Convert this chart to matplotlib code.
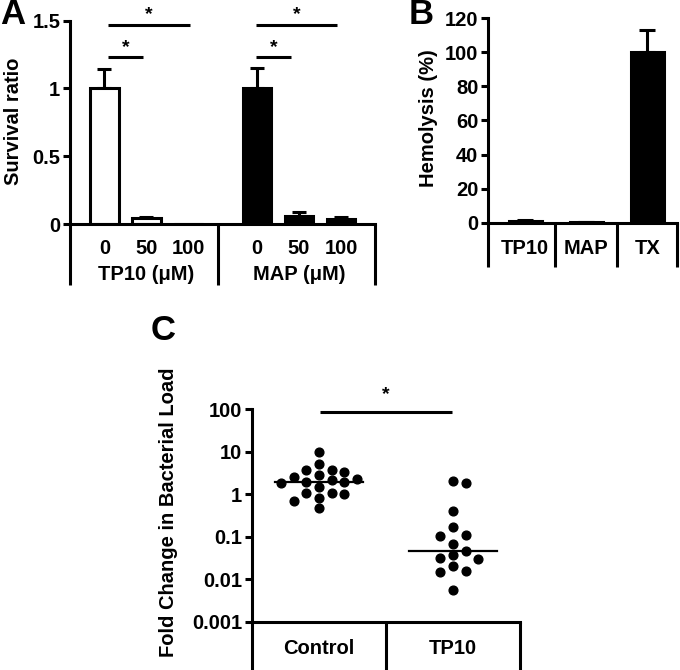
import numpy as np
import matplotlib
matplotlib.use("Agg")
import matplotlib.pyplot as plt
from matplotlib.ticker import NullLocator
from matplotlib.transforms import blended_transform_factory

plt.rcParams['font.family'] = ['Liberation Sans', 'DejaVu Sans']
plt.rcParams['font.weight'] = 'bold'
plt.rcParams['font.size'] = 14

# --- panel A: survival ratio ---
doses = ["0", "50", "100"]
tp10_surv = [1.0, 0.045, 0.0]
tp10_surv_err = [0.14, 0.01, 0.0]
map_surv = [1.0, 0.06, 0.04]
map_surv_err = [0.15, 0.025, 0.015]

# --- panel B: hemolysis ---
hemo_labels = ["TP10", "MAP", "TX"]
hemo = [1.2, 0.3, 100.5]
hemo_err = [0.4, 0.2, 12.5]

# --- panel C: fold change in bacterial load ---
groups_c = ["Control", "TP10"]
control_fold = [9.9, 5.3, 3.7, 3.7, 3.3, 2.94, 2.6, 2.36, 2.15, 1.97,
                1.93, 1.87, 1.5, 1.08, 1.08, 1.0, 0.8, 0.68, 0.48]
tp10_fold = [2.04, 1.87, 0.40, 0.167, 0.112, 0.106, 0.068, 0.047,
             0.038, 0.0325, 0.0305, 0.021, 0.0159, 0.015, 0.0056]

W, H = 680, 670
fig = plt.figure(figsize=(W / 100, H / 100), dpi=100)
LW = 2.2


def px_axes(l, t, r, b):
    return fig.add_axes([l / W, 1 - b / H, (r - l) / W, (b - t) / H])


def style(ax):
    for s in ["top", "right"]:
        ax.spines[s].set_visible(False)
    for s in ["left", "bottom"]:
        ax.spines[s].set_linewidth(LW)
    ax.tick_params(axis="y", width=LW, length=5, labelsize=14.5, pad=2)
    ax.tick_params(axis="x", length=0, labelbottom=False)


def separators(ax, xs, y_px):
    tr = blended_transform_factory(ax.transData, fig.transFigure)
    y0 = ax.get_position().y0
    for x in xs:
        ax.plot([x, x], [y0, 1 - y_px / H], color="k", lw=LW,
                transform=tr, clip_on=False, solid_capstyle="butt")


def cat_labels(ax, xs, labels, y_px):
    tr = blended_transform_factory(ax.transData, fig.transFigure)
    for x, t in zip(xs, labels):
        ax.text(x, 1 - y_px / H, t, ha="center", va="center", transform=tr,
                fontsize=14.5, fontweight="bold")


def up_err(ax, xs, vals, errs, cap):
    xs, vals, errs = map(np.asarray, (xs, vals, errs))
    m = errs > 0
    ax.errorbar(xs[m], vals[m], yerr=[np.zeros(m.sum()), errs[m]], fmt="none",
                ecolor="k", elinewidth=LW, capsize=cap, capthick=LW, zorder=1)


def sig(ax, x1, x2, y, off=4):
    ax.plot([x1, x2], [y, y], color="k", lw=LW, clip_on=False,
            solid_capstyle="butt")
    ax.annotate("*", xy=((x1 + x2) / 2, y), xytext=(0, off),
                textcoords="offset points", ha="center", va="baseline",
                fontsize=14, fontweight="bold", annotation_clip=False)


# ---------------- A ----------------
axA = px_axes(70, 20.7, 375, 224)
style(axA)
pos_tp = np.array([0, 1, 2])
pos_map = pos_tp + 3.63
bw = 0.67
axA.bar(pos_tp, tp10_surv, width=bw, color="white", edgecolor="k",
        linewidth=LW, zorder=2)
axA.bar(pos_map, map_surv, width=bw, color="k", edgecolor="k",
        linewidth=LW, zorder=2)
up_err(axA, pos_tp, tp10_surv, tp10_surv_err, 5)
up_err(axA, pos_map, map_surv, map_surv_err, 5)
axA.set_xlim(-0.82, 6.44)
axA.set_ylim(0, 1.5)
axA.set_yticks([0, 0.5, 1, 1.5], ["0", "0.5", "1", "1.5"])
sig(axA, 0.08, 2.04, 1.47)
sig(axA, 0.08, 0.92, 1.23)
sig(axA, 3.6, 5.54, 1.47)
sig(axA, 3.6, 4.44, 1.23)
separators(axA, [-0.82, 2.71, 6.44], 285)
cat_labels(axA, np.r_[pos_tp, pos_map], doses * 2, 248)
cat_labels(axA, [pos_tp[1], pos_map[1]], ["TP10 (\u03bcM)", "MAP (\u03bcM)"], 275)
fig.text(14 / W, 1 - 121 / H, "Survival ratio", rotation=90, ha="center",
         va="center", fontsize=14.5, fontweight="bold")
fig.text(13 / W, 1 - 15 / H, "A", ha="center", va="center", fontsize=25,
         fontweight="bold")

# ---------------- B ----------------
axB = px_axes(488, 18.3, 677, 222.7)
style(axB)
pos_b = np.arange(len(hemo))
axB.bar(pos_b, hemo, width=0.54, color="k", edgecolor="k", linewidth=LW,
        zorder=2)
up_err(axB, pos_b, hemo, hemo_err, 6)
axB.set_xlim(-0.61, 2.49)
axB.set_ylim(0, 120)
axB.set_yticks(range(0, 121, 20))
separators(axB, [-0.61, 0.49, 1.51, 2.49], 267)
cat_labels(axB, pos_b, hemo_labels, 248)
fig.text(428 / W, 1 - 118 / H, "Hemolysis (%)", rotation=90, ha="center",
         va="center", fontsize=14.5, fontweight="bold")
fig.text(421 / W, 1 - 15 / H, "B", ha="center", va="center", fontsize=25,
         fontweight="bold")


# ---------------- C ----------------
def swarm(vals, step, gap):
    logs = np.log10(vals)
    placed = []
    offs = []
    cands = [0] + [s * i for i in range(1, 10) for s in (1, -1)]
    for v in logs:
        for c in cands:
            if all(abs(v - pv) >= gap for pv, pc in placed if pc == c):
                break
        placed.append((v, c))
        offs.append(c * step)
    return np.array(offs)


axC = px_axes(252, 409.5, 520, 621.7)
style(axC)
axC.set_yscale("log")
axC.set_xlim(-0.5, 1.5)
axC.set_ylim(0.001, 100)
axC.set_yticks([0.001, 0.01, 0.1, 1, 10, 100],
               ["0.001", "0.01", "0.1", "1", "10", "100"])
axC.yaxis.set_minor_locator(NullLocator())
for i, vals in enumerate([control_fold, tp10_fold]):
    xs = i + swarm(vals, 0.095, 0.21)
    axC.plot(xs, vals, "o", color="k", ms=6.3, clip_on=False, zorder=3)
    med = np.median(vals)
    axC.plot([i - 0.33, i + 0.33], [med, med], color="k", lw=1.6, zorder=2)
sig(axC, 0.01, 0.99, 89, off=9)
separators(axC, [-0.5, 0.5, 1.5], 670)
cat_labels(axC, [0, 1], groups_c, 648)
fig.text(168 / W, 1 - 512 / H, "Fold Change in Bacterial Load", rotation=90,
         ha="center", va="center", fontsize=14.5, fontweight="bold")
fig.text(163 / W, 1 - 331 / H, "C", ha="center", va="center", fontsize=25,
         fontweight="bold")

fig.savefig("out.png", dpi=100)
